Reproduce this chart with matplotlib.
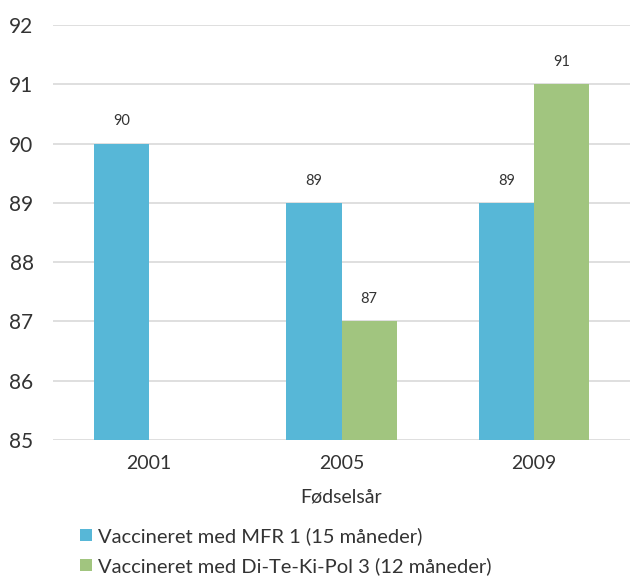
import numpy as np
import matplotlib.pyplot as plt

# Data
years = ["2001", "2005", "2009"]
mfr = [90, 89, 89]
ditekipol = [np.nan, 87, 91]
series_names = ["Vaccineret med MFR 1 (15 måneder)",
                "Vaccineret med Di-Te-Ki-Pol 3 (12 måneder)"]

blue = "#57B7D7"
green = "#A1C57F"

plt.rcParams['font.family'] = ['Lato', 'DejaVu Sans']

fig = plt.figure(figsize=(6.3, 5.78), dpi=100)
ax = fig.add_axes([53 / 630, 1 - 440 / 578, 1 - 53 / 630, (440 - 25) / 578])

x = np.arange(len(years))
w = 0.286
b1 = ax.bar(x - w / 2, mfr, width=w, color=blue, zorder=3)
b2 = ax.bar(x + w / 2, ditekipol, width=w, color=green, zorder=3)

def labels_for(vals):
    return ["" if np.isnan(v) else f"{v:.0f}" for v in vals]

ax.bar_label(b1, labels=labels_for(np.array(mfr, dtype=float)), padding=11,
             fontsize=10.5, color="#333333")
ax.bar_label(b2, labels=labels_for(np.array(ditekipol, dtype=float)), padding=11,
             fontsize=10.5, color="#333333")

ax.set_ylim(85, 92)
ax.set_xlim(-0.5, len(years) - 0.5)
ax.set_yticks(range(85, 93))
ax.set_xticks(x)
ax.set_xticklabels(years, fontsize=14, color="#333333")
ax.tick_params(axis="y", labelsize=15, colors="#333333", length=0, pad=14)
ax.tick_params(axis="x", length=0, pad=11)
ax.yaxis.grid(True, color="#D9D9D9", linewidth=1.2, zorder=0)
for s in ax.spines.values():
    s.set_visible(False)
ax.set_xlabel("Fødselsår", fontsize=14, color="#333333", labelpad=12)

fig.legend([b1, b2], series_names, loc="upper left",
           bbox_to_anchor=(62 / 630, 1 - 509 / 578), frameon=False,
           fontsize=14.5, handlelength=0.6, handleheight=0.6, handletextpad=0.3,
           labelspacing=0.6, labelcolor="#333333")

fig.savefig("out.png", dpi=100)
